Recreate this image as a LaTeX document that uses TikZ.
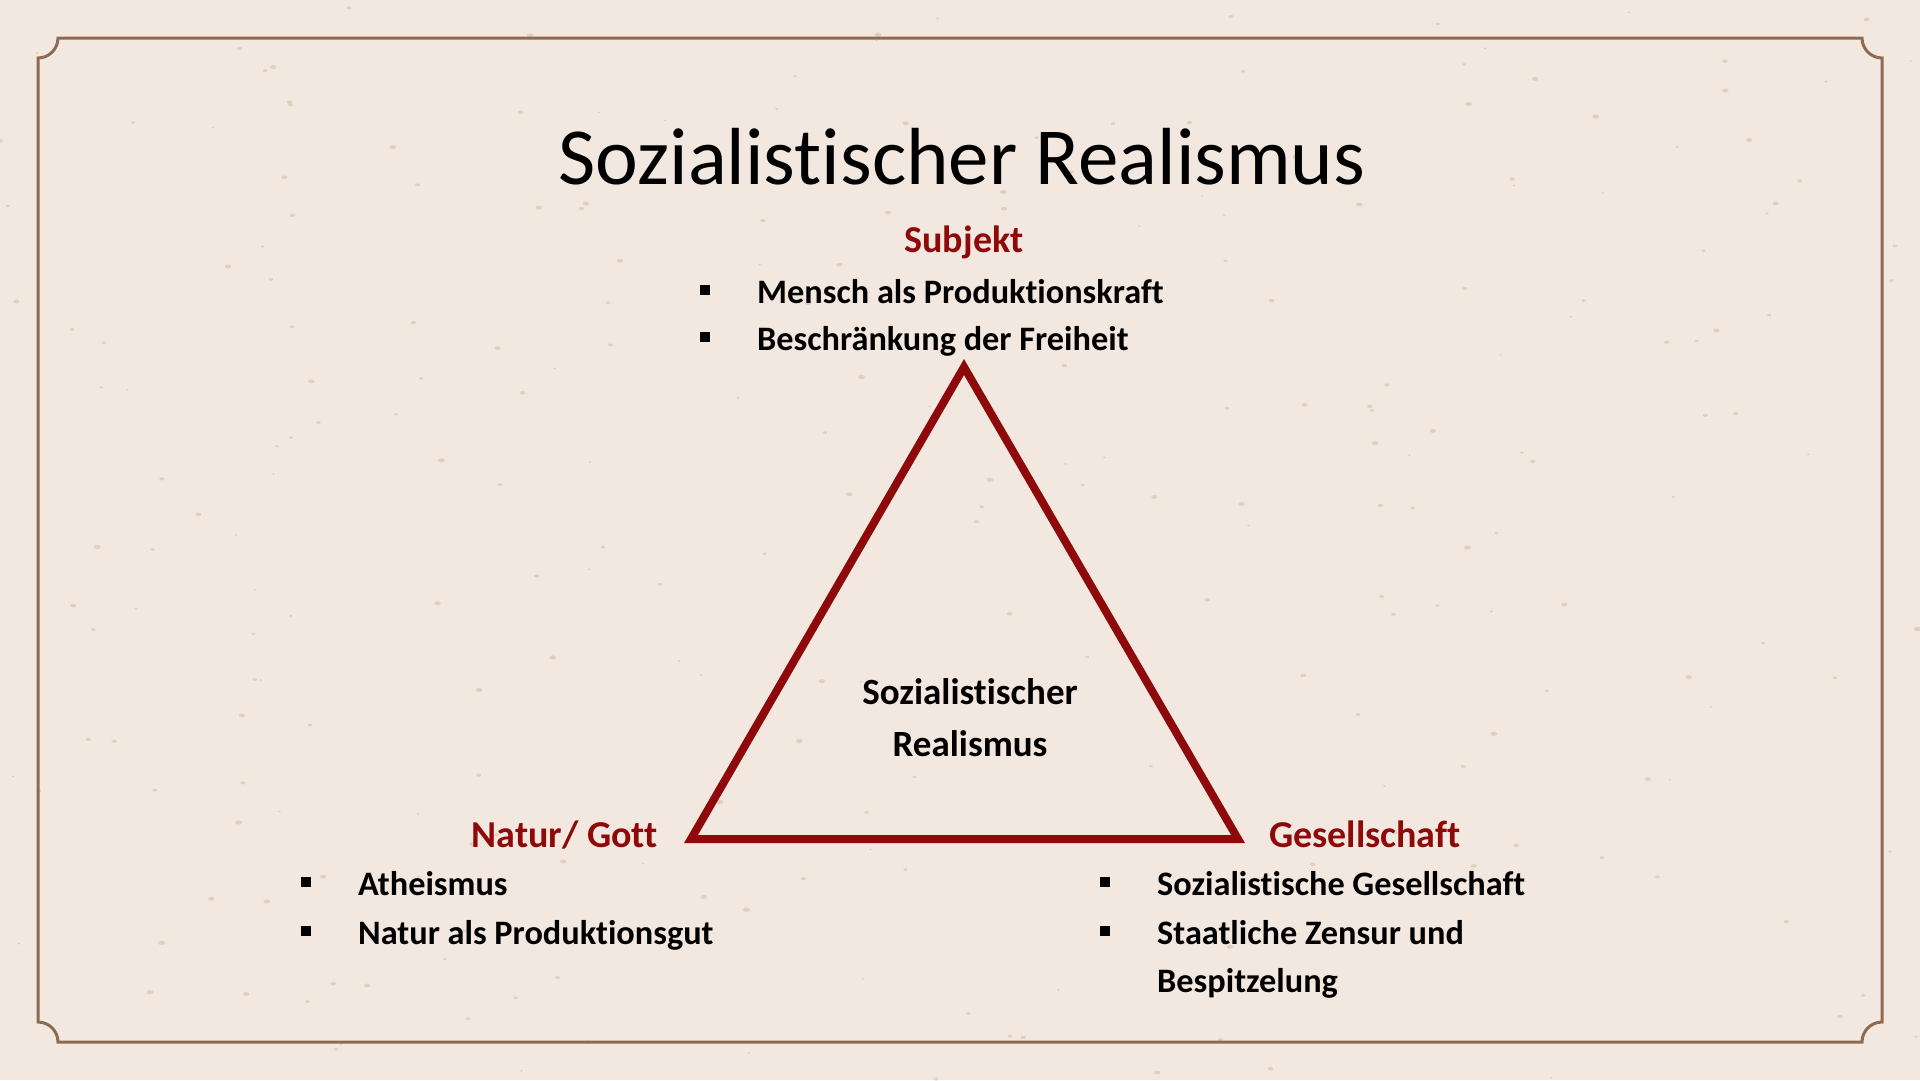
\documentclass[tikz,border=0pt]{standalone}
\usepackage{fontspec}
\setmainfont[Ligatures={NoCommon}]{Carlito}
\definecolor{bgc}{HTML}{F3E8E0}
\definecolor{framec}{HTML}{8C6B52}
\definecolor{darkred}{HTML}{8E0A0A}
\definecolor{speck}{HTML}{E2D0BF}
\tikzset{
  heading/.style={font=\bfseries\fontsize{38}{44}\selectfont, text=darkred, inner sep=0pt},
  item/.style={font=\bfseries\fontsize{34.3}{40}\selectfont, text=black, inner sep=0pt, anchor=base west},
  bulletbox/.style={fill=black, minimum size=10pt, inner sep=0pt, outer sep=0pt},
}
\begin{document}
\begin{tikzpicture}[x=1pt,y=-1pt]
\fill[bgc] (0,0) rectangle (1920,1080);
\useasboundingbox (0,0) rectangle (1920,1080);
% speckles
\pgfmathsetseed{7}
\foreach \i in {1,...,260}{
  \pgfmathsetmacro{\sx}{rnd*1920}
  \pgfmathsetmacro{\sy}{rnd*1080}
  \pgfmathsetmacro{\sr}{0.8+rnd*1.4}
  \fill[speck] (\sx,\sy) ellipse ({\sr*1.6} and \sr);
}
% frame
\draw[framec, line width=3pt]
  (58,38) -- (1862,38) .. controls (1862,49) and (1871,58) .. (1882,58)
  -- (1882,1022) .. controls (1871,1022) and (1862,1031) .. (1862,1042)
  -- (58,1042) .. controls (58,1031) and (49,1022) .. (38,1022)
  -- (38,58) .. controls (49,58) and (58,49) .. (58,38) -- cycle;
% title
\node[font=\fontsize{81}{96}\selectfont, anchor=base, inner sep=0pt] (title) at (962,184) {Sozialistischer Realismus};
% triangle
\coordinate (apex) at (964,367);
\coordinate (bl) at (691,839);
\coordinate (br) at (1238,839);
\draw[darkred, line width=8pt, line join=miter] (apex) -- (br) -- (bl) -- cycle;
% center text
\node[font=\bfseries\fontsize{37}{52}\selectfont, align=center, inner sep=0pt] (center) at (970,718) {Sozialistischer\\Realismus};
% Subjekt
\node[heading, anchor=base] (subj) at (964,252) {Subjekt};
\node[bulletbox] (sb1) at (705,290) {};
\node[item] (s1) at (757,303) {Mensch als Produktionskraft};
\node[bulletbox] (sb2) at (705,337) {};
\node[item] (s2) at (757,350) {Beschränkung der Freiheit};
% Natur / Gott
\node[heading, anchor=base east] (natur) at (658,847) {Natur/ Gott};
\node[bulletbox] (nb1) at (306,882) {};
\node[item] (n1) at (358,895) {Atheismus};
\node[bulletbox] (nb2) at (306,931) {};
\node[item] (n2) at (358,944) {Natur als Produktionsgut};
% Gesellschaft
\node[heading, anchor=base west] (ges) at (1269,847) {Gesellschaft};
\node[bulletbox] (gb1) at (1105,882) {};
\node[item] (g1) at (1157,895) {Sozialistische Gesellschaft};
\node[bulletbox] (gb2) at (1105,931) {};
\node[item] (g2) at (1157,944) {Staatliche Zensur und};
\node[item] (g3) at (1157,992) {Bespitzelung};
\end{tikzpicture}
\end{document}
